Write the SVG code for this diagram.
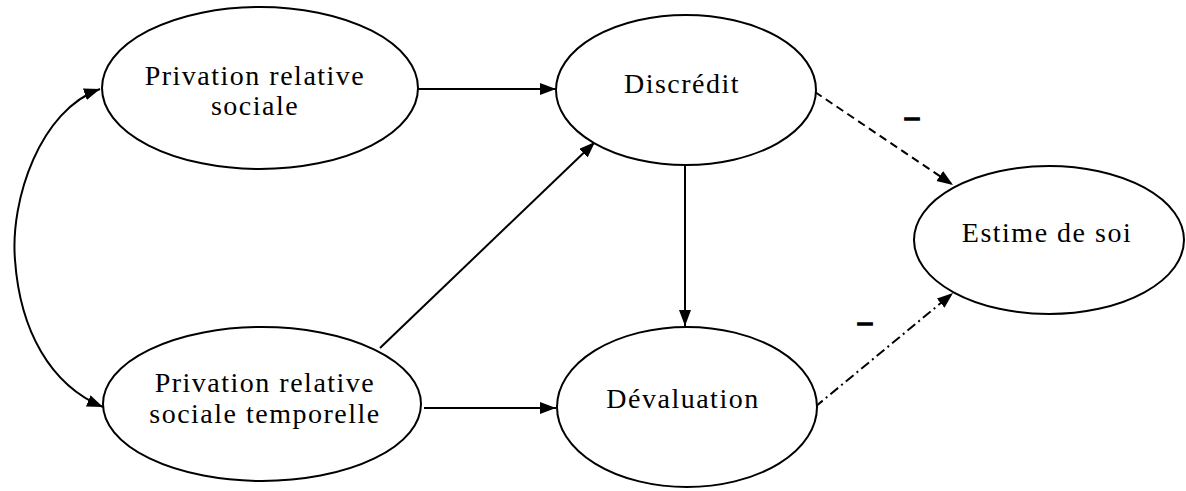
<svg xmlns="http://www.w3.org/2000/svg" width="1186" height="491" viewBox="0 0 1186 491">
<style>
.node ellipse{fill:#fff;stroke:#000;stroke-width:2}
.node text,.sign{font-family:"Liberation Serif","Times New Roman",serif;font-size:28px;letter-spacing:1.5px;text-anchor:middle;fill:#000}
.sign{font-weight:bold;letter-spacing:0;stroke:#000;stroke-width:1.5}
.edge{fill:none;stroke:#000;stroke-width:2}
</style>
<defs>
<marker id="ah" markerUnits="userSpaceOnUse" markerWidth="17" markerHeight="13" refX="16" refY="6" orient="auto-start-reverse">
<path d="M0,0 L16,6 L0,12 z" fill="#000"/>
</marker>
</defs>
<rect width="1186" height="491" fill="#fff"/>
<g id="connectors">
<path class="edge" d="M100,89 C40,110 10,200 15,260 C20,330 50,385 103,407" marker-start="url(#ah)" marker-end="url(#ah)"/>
<path class="edge" d="M418,89 L556,89" marker-end="url(#ah)"/>
<path class="edge" d="M424,408 L556,408" marker-end="url(#ah)"/>
<path class="edge" d="M380,348 L595,142" marker-end="url(#ah)"/>
<path class="edge" d="M685,164 L685,326" marker-end="url(#ah)"/>
<path class="edge" d="M815,92 L953,185" stroke-dasharray="8,5" marker-end="url(#ah)"/>
<path class="edge" d="M815,407 L953,293" stroke-dasharray="10,4,2,4" marker-end="url(#ah)"/>
<text class="sign" x="912" y="125">–</text>
<text class="sign" x="865" y="330">–</text>
</g>
<g id="n1" class="node">
<ellipse cx="260" cy="88" rx="158" ry="81"/>
<text x="255" y="85">Privation relative</text>
<text x="255" y="115">sociale</text>
</g>
<g id="n2" class="node">
<ellipse cx="262" cy="404" rx="159" ry="77"/>
<text x="265" y="392">Privation relative</text>
<text x="265" y="423">sociale temporelle</text>
</g>
<g id="n3" class="node">
<ellipse cx="686" cy="90" rx="130" ry="75"/>
<text x="682" y="93">Discrédit</text>
</g>
<g id="n4" class="node">
<ellipse cx="687" cy="407" rx="130" ry="80"/>
<text x="683" y="408">Dévaluation</text>
</g>
<g id="n5" class="node">
<ellipse cx="1049" cy="240" rx="135" ry="74"/>
<text x="1047" y="242">Estime de soi</text>
</g>
</svg>
